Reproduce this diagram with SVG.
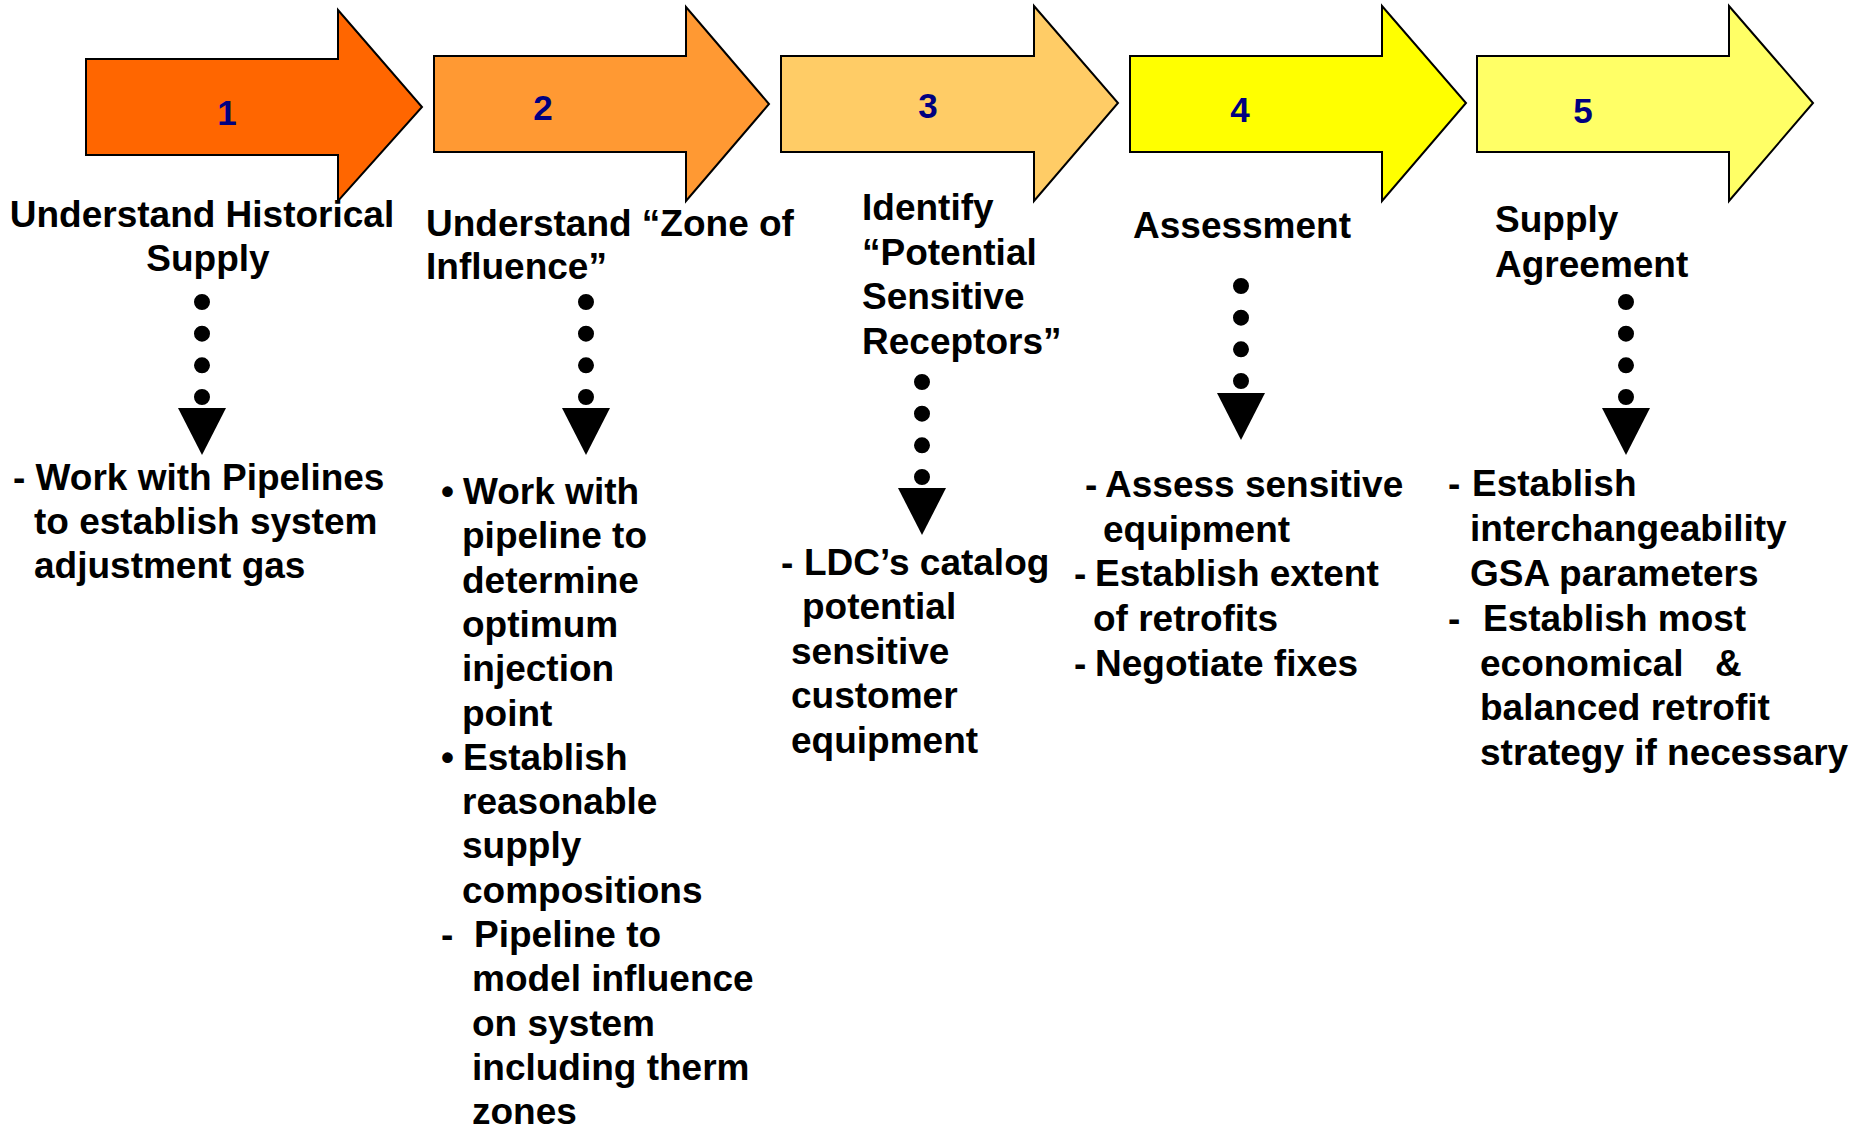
<svg xmlns="http://www.w3.org/2000/svg" width="1866" height="1134" viewBox="0 0 1866 1134">
<style>
.arrow{stroke:#000;stroke-width:2;stroke-linejoin:miter}
.num{font-family:"Liberation Sans",Arial,sans-serif;font-weight:bold;font-size:35px;fill:#000080;text-anchor:middle}
.t{font-family:"Liberation Sans",Arial,sans-serif;font-weight:bold;font-size:37px;fill:#000}
.dots{fill:none;stroke:#000;stroke-width:16;stroke-linecap:round;stroke-dasharray:0 31.67}
.head{fill:#000}
</style>
<defs>
<path id="tri" d="M-24,0 L24,0 L0,47 Z"/>
</defs>
<rect width="1866" height="1134" fill="#fff"/>

<g id="step1">
<polygon class="arrow" fill="#FF6600" points="86,59 338,59 338,10 422,107 338,201 338,155 86,155"/>
<text class="num" x="227" y="125">1</text>
<text class="t" text-anchor="middle"><tspan x="202" y="227">Understand Historical</tspan><tspan x="208" y="271">Supply</tspan></text>
<text class="t"><tspan x="13" y="490">- Work with Pipelines</tspan><tspan x="34" y="534">to establish system</tspan><tspan x="34" y="578">adjustment gas</tspan></text>
</g>

<g id="step2">
<polygon class="arrow" fill="#FF9933" points="434,56 686,56 686,7 769,104 686,201 686,152 434,152"/>
<text class="num" x="543" y="120">2</text>
<text class="t"><tspan x="426" y="236">Understand “Zone of</tspan><tspan x="426" y="279">Influence”</tspan></text>
<text class="t">
<tspan x="441" y="504">•</tspan><tspan x="463" y="504">Work with</tspan>
<tspan x="462" y="548">pipeline to</tspan>
<tspan x="462" y="593">determine</tspan>
<tspan x="462" y="637">optimum</tspan>
<tspan x="462" y="681">injection</tspan>
<tspan x="462" y="726">point</tspan>
<tspan x="441" y="770">•</tspan><tspan x="463" y="770">Establish</tspan>
<tspan x="462" y="814">reasonable</tspan>
<tspan x="462" y="858">supply</tspan>
<tspan x="462" y="903">compositions</tspan>
<tspan x="441" y="947">-</tspan><tspan x="474" y="947">Pipeline to</tspan>
<tspan x="472" y="991">model influence</tspan>
<tspan x="472" y="1036">on system</tspan>
<tspan x="472" y="1080">including therm</tspan>
<tspan x="472" y="1124">zones</tspan>
</text>
</g>

<g id="step3">
<polygon class="arrow" fill="#FFCC66" points="781,56 1034,56 1034,6 1118,103 1034,201 1034,152 781,152"/>
<text class="num" x="928" y="118">3</text>
<text class="t"><tspan x="862" y="220">Identify</tspan><tspan x="862" y="265">“Potential</tspan><tspan x="862" y="309">Sensitive</tspan><tspan x="862" y="354">Receptors”</tspan></text>
<text class="t"><tspan x="781" y="575">-</tspan><tspan x="804" y="575">LDC’s catalog</tspan><tspan x="802" y="619">potential</tspan><tspan x="791" y="664">sensitive</tspan><tspan x="791" y="708">customer</tspan><tspan x="791" y="753">equipment</tspan></text>
</g>

<g id="step4">
<polygon class="arrow" fill="#FFFF00" points="1130,56 1382,56 1382,6 1466,103 1382,201 1382,152 1130,152"/>
<text class="num" x="1240" y="122">4</text>
<text class="t" x="1133" y="238">Assessment</text>
<text class="t"><tspan x="1085" y="497">-</tspan><tspan x="1105" y="497">Assess sensitive</tspan><tspan x="1103" y="542">equipment</tspan><tspan x="1074" y="586">-</tspan><tspan x="1095" y="586">Establish extent</tspan><tspan x="1093" y="631">of retrofits</tspan><tspan x="1074" y="676">-</tspan><tspan x="1095" y="676">Negotiate fixes</tspan></text>
</g>

<g id="step5">
<polygon class="arrow" fill="#FFFF66" points="1477,56 1729,56 1729,6 1813,103 1729,201 1729,152 1477,152"/>
<text class="num" x="1583" y="123">5</text>
<text class="t"><tspan x="1495" y="232">Supply</tspan><tspan x="1495" y="277">Agreement</tspan></text>
<text class="t"><tspan x="1448" y="496">-</tspan><tspan x="1472" y="496">Establish</tspan><tspan x="1470" y="541">interchangeability</tspan><tspan x="1470" y="586">GSA parameters</tspan><tspan x="1448" y="631">-</tspan><tspan x="1483" y="631">Establish most</tspan><tspan x="1480" y="676">economical</tspan><tspan x="1715" y="676">&amp;</tspan><tspan x="1480" y="720">balanced retrofit</tspan><tspan x="1480" y="765">strategy if necessary</tspan></text>
</g>

<g id="connectors">
<path class="dots" d="M202,302 V398"/>
<use href="#tri" class="head" x="202" y="408"/>
<path class="dots" d="M586,302 V398"/>
<use href="#tri" class="head" x="586" y="408"/>
<path class="dots" d="M922,382 V478"/>
<use href="#tri" class="head" x="922" y="488"/>
<path class="dots" d="M1241,286 V382"/>
<use href="#tri" class="head" x="1241" y="393"/>
<path class="dots" d="M1626,302 V398"/>
<use href="#tri" class="head" x="1626" y="408"/>
</g>
</svg>
